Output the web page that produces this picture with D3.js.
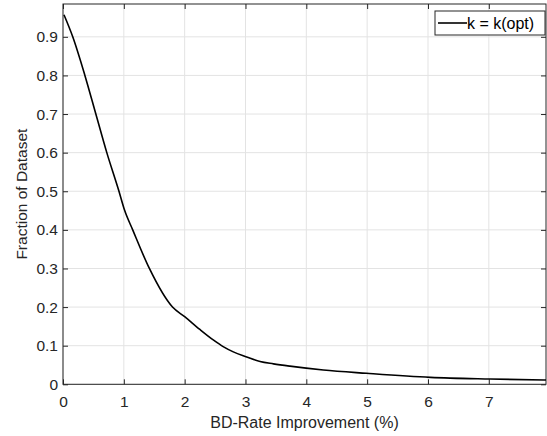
<!DOCTYPE html>
<html><head><meta charset="utf-8">
<script src="https://cdn.jsdelivr.net/npm/d3@7"></script>
<style>body{margin:0;background:#fff}text{font-family:"Liberation Sans",Arial,sans-serif}</style>
</head><body><svg id="c" width="547" height="436"></svg>
<script>
const xVals = [0.016,0.16,0.36,0.54,0.72,0.92,1.01,1.146,1.42,1.80,2.0,2.25,2.47,2.64,2.80,3.02,3.24,3.46,3.73,4.28,4.99,6.04,7.02,7.94];
const yVals = [0.957,0.9,0.8,0.7,0.6,0.5,0.452,0.4,0.3,0.2,0.175,0.142,0.115,0.097,0.084,0.071,0.059,0.053,0.047,0.037,0.0285,0.018,0.0137,0.011];
const xTicks = [0,1,2,3,4,5,6,7];
const yTicks = [0,0.1,0.2,0.3,0.4,0.5,0.6,0.7,0.8,0.9];
const seriesName = "k = k(opt)";
const xLabel = "BD-Rate Improvement (%)";
const yLabel = "Fraction of Dataset";

const svg = d3.select("#c");
const L=63,T=4,R=546,B=384.3;
const x = d3.scaleLinear().domain([0,7.94]).range([L,R]);
const y = d3.scaleLinear().domain([0,0.985]).range([B,T]);
const g = svg.append("g");
// grid
g.selectAll(".gx").data(xTicks).enter().append("line").attr("x1",d=>x(d)).attr("x2",d=>x(d)).attr("y1",T).attr("y2",B).attr("stroke","#e3e3e3");
g.selectAll(".gy").data(yTicks).enter().append("line").attr("y1",d=>y(d)).attr("y2",d=>y(d)).attr("x1",L).attr("x2",R).attr("stroke","#e3e3e3");
// axes
const ax = g.append("g").attr("transform",`translate(0,${B})`).call(d3.axisBottom(x).tickValues(xTicks).tickSize(-5).tickPadding(12).tickFormat(d3.format("d")));
const ay = g.append("g").attr("transform",`translate(${L},0)`).call(d3.axisLeft(y).tickValues(yTicks).tickSize(-5).tickPadding(5).tickFormat(d=>d===0?"0":d3.format(".1f")(d)));
const axT = g.append("g").attr("transform",`translate(0,${T})`).call(d3.axisTop(x).tickValues(xTicks).tickSize(-5).tickFormat(""));
const ayR = g.append("g").attr("transform",`translate(${R},0)`).call(d3.axisRight(y).tickValues(yTicks).tickSize(-5).tickFormat(""));
[ax,ay,axT,ayR].forEach(a=>{a.select(".domain").remove();a.selectAll("line").attr("stroke","#262626");a.selectAll("text").attr("fill","#262626").style("font-size","15.5px").style("font-family","Liberation Sans, Arial, sans-serif");});
g.append("rect").attr("x",L).attr("y",T).attr("width",R-L).attr("height",B-T).attr("fill","none").attr("stroke","#262626").attr("stroke-width",1);
// curve
const pts = xVals.map((v,i)=>[v,yVals[i]]);
g.append("path").datum(pts).attr("fill","none").attr("stroke","#000").attr("stroke-width",1.6)
 .attr("d",d3.line().x(d=>x(d[0])).y(d=>y(d[1])).curve(d3.curveMonotoneX));
// labels
svg.append("text").attr("x",(L+R)/2).attr("y",428).attr("text-anchor","middle").attr("fill","#262626").style("font-size","16px").text(xLabel);
svg.append("text").attr("transform",`translate(27,${(T+B)/2}) rotate(-90)`).attr("text-anchor","middle").attr("fill","#262626").style("font-size","15.5px").text(yLabel);
// legend
const lg = svg.append("g");
lg.append("rect").attr("x",435).attr("y",11).attr("width",110).attr("height",24).attr("fill","#fff").attr("stroke","#262626");
lg.append("line").attr("x1",438).attr("x2",467).attr("y1",23).attr("y2",23).attr("stroke","#000").attr("stroke-width",1.6);
lg.append("text").attr("x",467).attr("y",29).attr("fill","#000").style("font-size","16px").text(seriesName);
</script></body></html>
